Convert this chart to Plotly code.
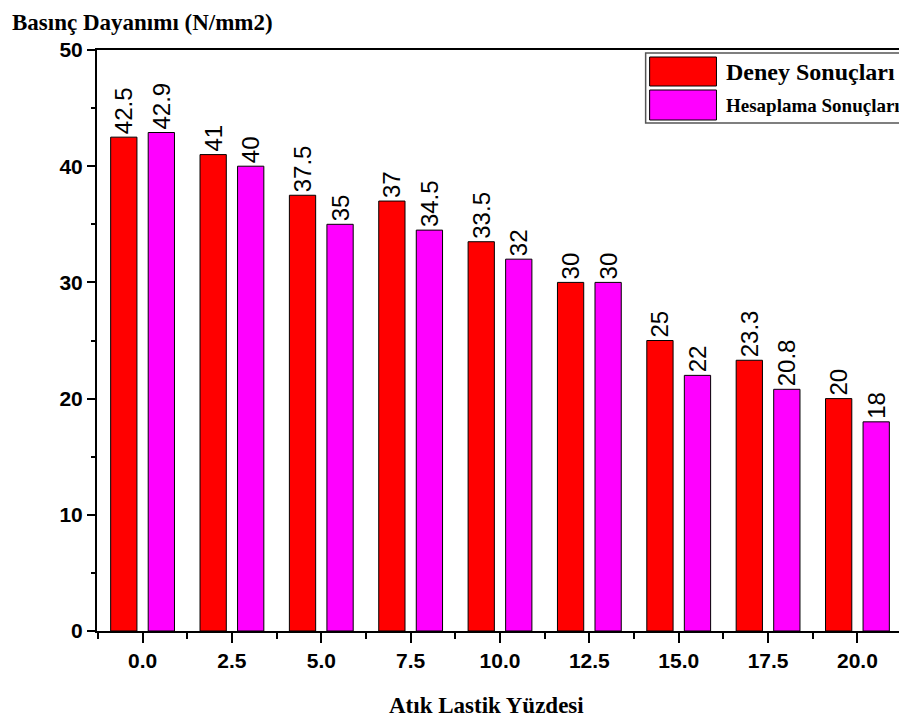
import plotly.graph_objects as go

categories = ["0.0", "2.5", "5.0", "7.5", "10.0", "12.5", "15.0", "17.5", "20.0"]
deney = [42.5, 41, 37.5, 37, 33.5, 30, 25, 23.3, 20]
hesaplama = [42.9, 40, 35, 34.5, 32, 30, 22, 20.8, 18]
series_names = ["Deney Sonuçları", "Hesaplama Sonuçları"]
series_colors = ["#FF0000", "#FF00FF"]
y_ticks = [0, 10, 20, 30, 40, 50]

xs = list(range(len(categories)))

fig = go.Figure()
for name, vals, col in zip(series_names, [deney, hesaplama], series_colors):
    fig.add_trace(go.Bar(
        x=xs, y=vals, name=name,
        marker=dict(color=col, line=dict(color="black", width=1)),
        texttemplate="%{y}", textposition="outside", textangle=-90,
        constraintext="none", cliponaxis=False,
        textfont=dict(family="Liberation Sans, Arial", size=24, color="black"),
        showlegend=False,
    ))

# page body has an 8px margin; reference pixel coords are shifted by OFF
OFF = 8
W, H = 907 - OFF, 718 - OFF
L, R, T, B = 97 - OFF, 2, 50 - OFF, 87
pw, ph = W - L - R, H - T - B

def px(x):
    return (x - OFF - L) / pw

def py(y):
    return (H - B - (y - OFF)) / ph

sans = "Liberation Sans, Arial"
serif = "Liberation Serif, Times New Roman"

fig.update_layout(
    width=W, height=H,
    margin=dict(l=L, r=R, t=T, b=B, pad=0),
    paper_bgcolor="white", plot_bgcolor="white",
    barmode="group", bargap=0.16, bargroupgap=0.3,
    xaxis=dict(
        range=[-0.51, len(categories) - 0.49],
        tickvals=xs, ticktext=categories,
        ticks="outside", ticklen=10, tickwidth=2, tickcolor="black",
        minor=dict(tickvals=[i + 0.5 for i in range(-1, len(categories))],
                   ticks="outside", ticklen=6, tickwidth=2, tickcolor="black"),
        showline=True, linecolor="black", linewidth=2, mirror=True,
        showgrid=False, zeroline=False,
        tickfont=dict(family=sans, size=21, color="black", weight="bold"),
    ),
    yaxis=dict(
        range=[0, 50], tickvals=y_ticks,
        ticks="outside", ticklen=8, tickwidth=2, tickcolor="black",
        minor=dict(dtick=5, ticks="outside", ticklen=4, tickwidth=2, tickcolor="black"),
        showline=True, linecolor="black", linewidth=2, mirror=True,
        showgrid=False, zeroline=False,
        tickfont=dict(family=sans, size=21, color="black", weight="bold"),
    ),
)

# axis titles
fig.add_annotation(xref="paper", yref="paper", x=px(10), y=py(23), xanchor="left", yanchor="middle",
                   text="<b>Basınç Dayanımı (N/mm2)</b>", showarrow=False,
                   font=dict(family=serif, size=23, color="black"))
fig.add_annotation(xref="paper", yref="paper", x=px(487), y=py(705), xanchor="center", yanchor="middle",
                   text="<b>Atık Lastik Yüzdesi</b>", showarrow=False,
                   font=dict(family=serif, size=23, color="black"))

# legend box
fig.add_shape(type="rect", xref="paper", yref="paper", x0=px(647), x1=px(905), y0=py(123), y1=py(53),
              line=dict(color="#555555", width=1.5), fillcolor="white")
fig.add_shape(type="rect", xref="paper", yref="paper", x0=px(651), x1=px(718), y0=py(86), y1=py(57),
              line=dict(color="black", width=1), fillcolor=series_colors[0])
fig.add_shape(type="rect", xref="paper", yref="paper", x0=px(651), x1=px(718), y0=py(120), y1=py(90),
              line=dict(color="black", width=1), fillcolor=series_colors[1])
fig.add_annotation(xref="paper", yref="paper", x=px(726), y=py(72), xanchor="left", yanchor="middle",
                   text="<b>" + series_names[0] + "</b>", showarrow=False,
                   font=dict(family=serif, size=24, color="black"))
fig.add_annotation(xref="paper", yref="paper", x=px(726), y=py(105), xanchor="left", yanchor="middle",
                   text="<b>" + series_names[1] + "</b>", showarrow=False,
                   font=dict(family=serif, size=19, color="black"))

fig.write_html("out.html")
